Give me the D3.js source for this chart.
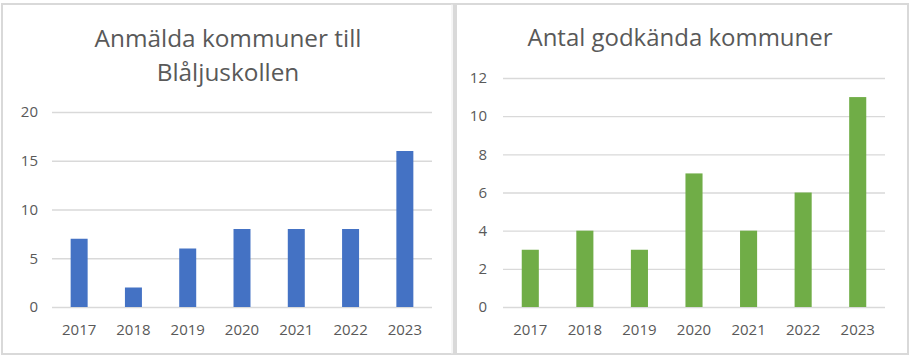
<!DOCTYPE html>
<html>
<head>
<meta charset="utf-8">
<script src="https://cdn.jsdelivr.net/npm/d3@7"></script>
<style>
  html, body { margin: 0; padding: 0; background: #ffffff; }
  svg { display: block; }
  text { font-family: "Open Sans", "Liberation Sans", sans-serif; fill: #595959; }
</style>
</head>
<body>
<svg id="chart" width="912" height="358"></svg>
<script>
// ---- Data ----
const years = ["2017", "2018", "2019", "2020", "2021", "2022", "2023"];
const anmalda = [7, 2, 6, 8, 8, 8, 16];
const godkanda = [3, 4, 3, 7, 4, 6, 11];
const leftTicks = [0, 5, 10, 15, 20];
const rightTicks = [0, 2, 4, 6, 8, 10, 12];
const leftTitle = ["Anmälda kommuner till", "Blåljuskollen"];
const rightTitle = ["Antal godkända kommuner"];
const colors = { left: "#4472C4", right: "#70AD47" };

const svg = d3.select("#chart");

// frame
svg.append("rect").attr("x", 2).attr("y", 4).attr("width", 906).attr("height", 350)
  .attr("fill", "#ffffff").attr("stroke", "#d9d9d9").attr("stroke-width", 2);
svg.append("rect").attr("x", 453).attr("y", 4).attr("width", 4).attr("height", 351)
  .attr("fill", "#d9d9d9");
svg.append("line").attr("x1", 452).attr("x2", 452).attr("y1", 4).attr("y2", 354)
  .attr("stroke", "#ececec").attr("stroke-width", 1);

function drawPanel(cfg) {
  const g = svg.append("g");
  const x = d3.scaleBand().domain(years).range([cfg.x0, cfg.x1]).paddingInner(0.687).paddingOuter(0.3435);
  const y = d3.scaleLinear().domain(cfg.domain).range([307, cfg.yTop]);

  // grid + y labels
  const yAxis = d3.axisLeft(y).tickValues(cfg.ticks).tickSize(-(cfg.x1 - cfg.x0)).tickPadding(cfg.labelGap);
  const ya = g.append("g").attr("transform", `translate(${cfg.x0},0)`).call(yAxis);
  ya.select(".domain").remove();
  ya.selectAll("line").attr("stroke", "#d9d9d9").attr("stroke-width", 1.3);
  ya.selectAll("text").attr("font-size", 15).attr("fill", "#595959")
    .attr("font-family", "\"Open Sans\", \"Liberation Sans\", sans-serif");

  // bars
  g.selectAll("rect.bar").data(cfg.values).enter().append("rect")
    .attr("class", "bar")
    .attr("x", (d, i) => x(years[i]))
    .attr("width", x.bandwidth())
    .attr("y", d => y(d))
    .attr("height", d => y(0) - y(d))
    .attr("fill", cfg.color);

  // x labels
  const xAxis = d3.axisBottom(x).tickSize(0).tickPadding(17);
  const xa = g.append("g").attr("transform", `translate(0,307)`).call(xAxis);
  xa.select(".domain").remove();
  xa.selectAll("text").attr("font-size", 15).attr("fill", "#595959")
    .attr("font-family", "\"Open Sans\", \"Liberation Sans\", sans-serif");

  // title
  cfg.title.forEach((t, i) => {
    const tx = g.append("text").attr("x", cfg.titleX).attr("y", cfg.titleY[i])
      .attr("text-anchor", "middle").attr("font-size", 24).attr("fill", "#595959").text(t);
    if (i === 0) {
      const w = tx.node().getComputedTextLength();
      cfg.fs = 24 * cfg.titleW / w;
    }
    tx.attr("font-size", cfg.fs);
  });
}

drawPanel({ x0: 52, x1: 432, yTop: 112, domain: [0, 20], ticks: leftTicks, values: anmalda,
  color: colors.left, labelGap: 14, title: leftTitle, titleX: 228, titleY: [47, 81], titleW: 267 });
drawPanel({ x0: 503, x1: 885, yTop: 78, domain: [0, 12], ticks: rightTicks, values: godkanda,
  color: colors.right, labelGap: 16, title: rightTitle, titleX: 680, titleY: [46], titleW: 305 });
</script>
</body>
</html>
